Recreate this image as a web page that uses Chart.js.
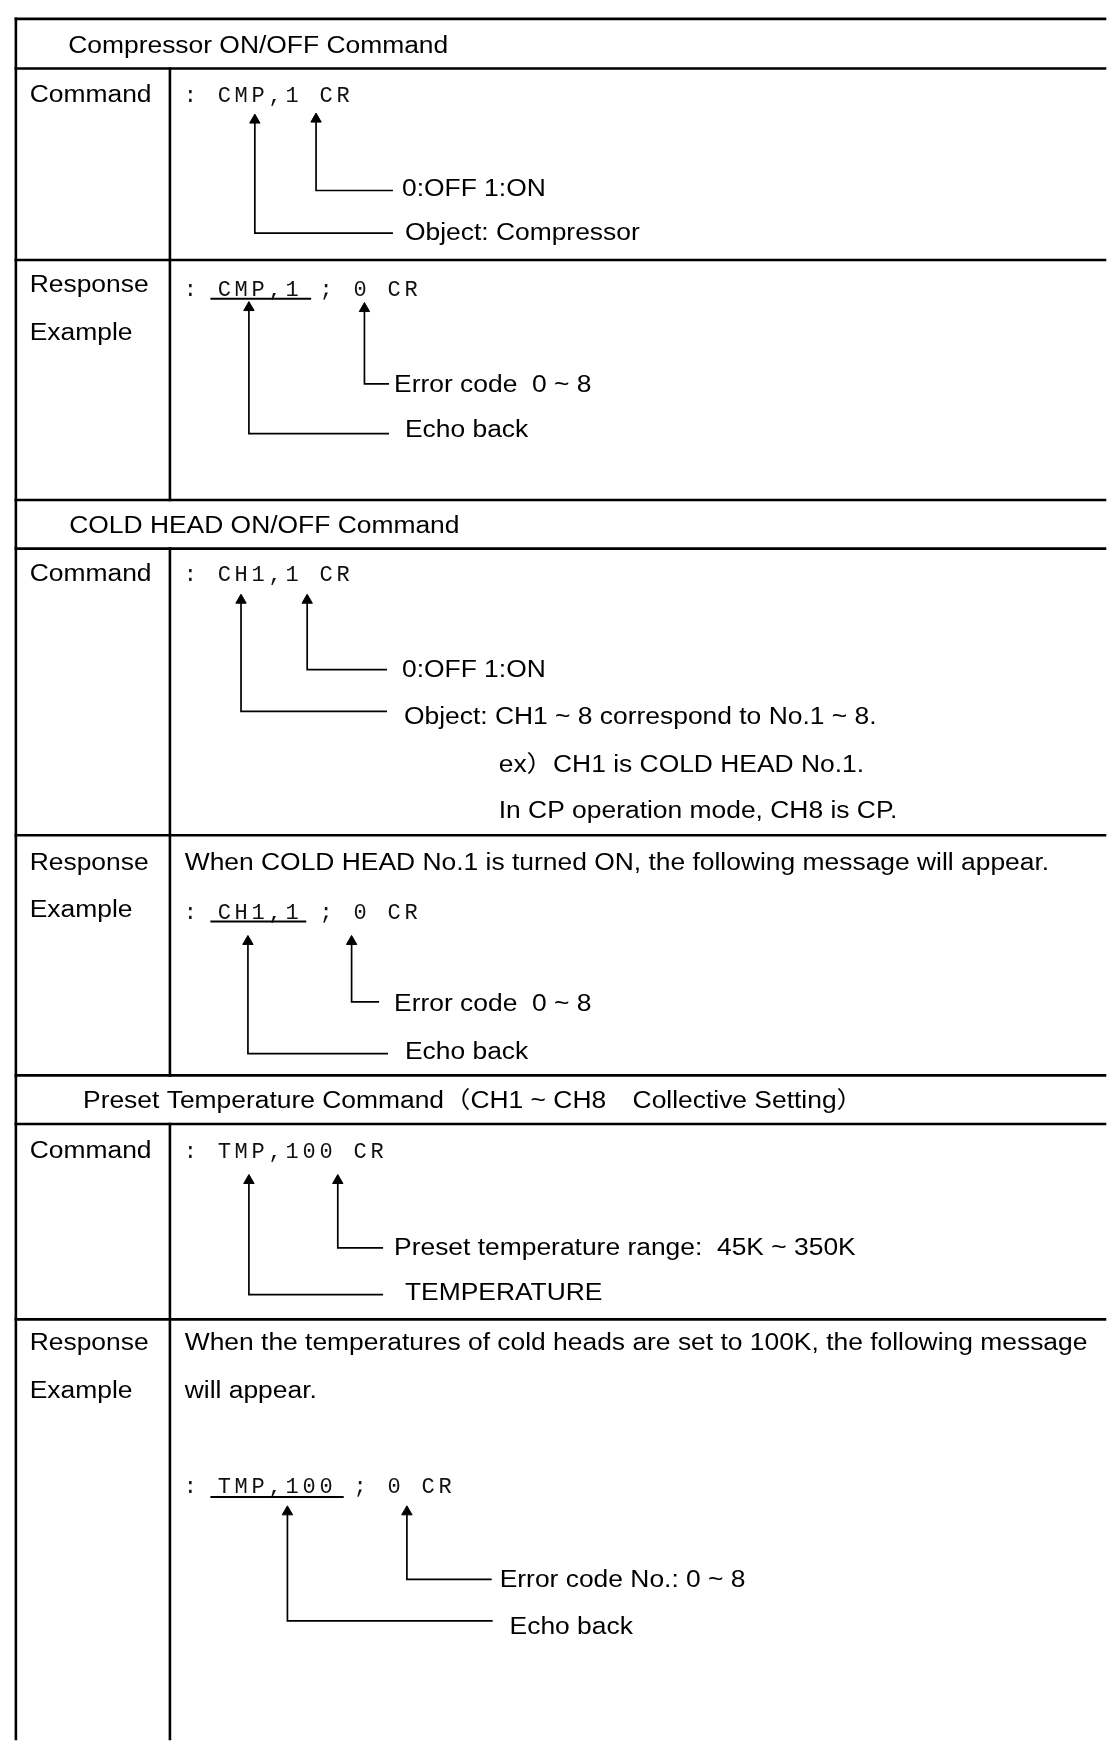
<!DOCTYPE html>
<html>
<head>
<meta charset="utf-8">
<script src="https://cdn.jsdelivr.net/npm/chart.js@4.4.1/dist/chart.umd.min.js"></script>
<style>
html, body { margin: 0; padding: 0; background: #fff; }
#wrap { width: 1112px; height: 1746px; }
</style>
</head>
<body>
<div id="wrap"><canvas id="chart"></canvas></div>
<script>
// sheet units: 1 unit = 1 px of the 1112 x 1746 page, y grows downward
const pageW = 1112
const pageH = 1746

// table rules
const ruleRows = [12, 62, 255, 497, 546, 835, 1077, 1126, 1323]
const leftEdge = 9
const dividerX = 165
const dividerSpans = [[62, 497], [546, 1077], [1126, 1746]]

// section titles
const headings = [
    {text: 'Compressor ON/OFF Command', x: 62, y: 46},
    {text: 'COLD HEAD ON/OFF Command', x: 63, y: 530},
    {text: 'Preset Temperature Command（CH1 ~ CH8　Collective Setting）', x: 77, y: 1110}
]

// left column
const rowLabels = [
    {text: 'Command', x: 23, y: 96},
    {text: 'Response', x: 23, y: 287},
    {text: 'Example', x: 23, y: 336},
    {text: 'Command', x: 23, y: 579},
    {text: 'Response', x: 23, y: 870},
    {text: 'Example', x: 23, y: 917},
    {text: 'Command', x: 23, y: 1160},
    {text: 'Response', x: 23, y: 1354},
    {text: 'Example', x: 23, y: 1402}
]

// right column notes
const notes = [
    {text: '0:OFF 1:ON', x: 400, y: 191},
    {text: 'Object: Compressor', x: 403, y: 235},
    {text: 'Error code  0 ~ 8', x: 392, y: 388},
    {text: 'Echo back', x: 403, y: 433},
    {text: '0:OFF 1:ON', x: 400, y: 675},
    {text: 'Object: CH1 ~ 8 correspond to No.1 ~ 8.', x: 402, y: 723},
    {text: 'ex）CH1 is COLD HEAD No.1.', x: 498, y: 771},
    {text: 'In CP operation mode, CH8 is CP.', x: 498, y: 818},
    {text: 'When COLD HEAD No.1 is turned ON, the following message will appear.', x: 180, y: 870},
    {text: 'Error code  0 ~ 8', x: 392, y: 1012},
    {text: 'Echo back', x: 403, y: 1061},
    {text: 'Preset temperature range:  45K ~ 350K', x: 392, y: 1258},
    {text: 'TEMPERATURE', x: 403, y: 1303},
    {text: 'When the temperatures of cold heads are set to 100K, the following message', x: 180, y: 1354},
    {text: 'will appear.', x: 180, y: 1402},
    {text: 'Error code No.: 0 ~ 8', x: 499, y: 1593},
    {text: 'Echo back', x: 509, y: 1640}
]

// command strings (drawn in fixed cells)
const codes = [
    {text: ': CMP,1 CR', x: 177, y: 96},
    {text: ': CMP,1 ; 0 CR', x: 177, y: 291},
    {text: ': CH1,1 CR', x: 177, y: 579},
    {text: ': CH1,1 ; 0 CR', x: 177, y: 919},
    {text: ': TMP,100 CR', x: 177, y: 1160},
    {text: ': TMP,100 ; 0 CR', x: 177, y: 1498}
]
const cellPitch = 17.2

// echo-back underlines: [from, to, y]
const underlines = [[207, 307, 294], [207, 302, 922], [207, 340, 1502]]

// leader arrows: column x, arrow tip, bend y, end of the leader
const arrows = [
    {x: 251, tip: 108, bend: 228, end: 390},
    {x: 313, tip: 107, bend: 185, end: 390},
    {x: 245, tip: 297, bend: 430, end: 386},
    {x: 362, tip: 298, bend: 380, end: 386},
    {x: 237, tip: 592, bend: 710, end: 384},
    {x: 304, tip: 592, bend: 668, end: 384},
    {x: 244, tip: 936, bend: 1055, end: 385},
    {x: 349, tip: 936, bend: 1003, end: 376},
    {x: 245, tip: 1177, bend: 1298, end: 380},
    {x: 335, tip: 1177, bend: 1251, end: 380},
    {x: 284, tip: 1511, bend: 1627, end: 491},
    {x: 405, tip: 1511, bend: 1585, end: 490}
]

function lineSet(points, width) {
    return {
        data: points.map(p => ({x: p[0], y: p[1]})),
        showLine: true,
        borderColor: '#000',
        borderWidth: width,
        borderCapStyle: 'square',
        pointRadius: 0,
        pointHoverRadius: 0,
        tension: 0,
        clip: false
    }
}

const datasets = []
ruleRows.forEach(y => datasets.push(lineSet([[leftEdge, y], [pageW, y]], 2.6)))
datasets.push(lineSet([[leftEdge, ruleRows[0]], [leftEdge, pageH]], 2.6))
dividerSpans.forEach(s => datasets.push(lineSet([[dividerX, s[0]], [dividerX, s[1]]], 2.6)))
underlines.forEach(u => datasets.push(lineSet([[u[0], u[2]], [u[1], u[2]]], 2)))
arrows.forEach(a => datasets.push(lineSet([[a.x, a.tip + 5], [a.x, a.bend], [a.end, a.bend]], 1.7)))
datasets.push({
    data: arrows.map(a => ({x: a.x, y: a.tip + 6})),
    showLine: false,
    pointStyle: 'triangle',
    pointRadius: 6,
    pointHoverRadius: 6,
    pointBackgroundColor: '#000',
    pointBorderColor: '#000',
    pointBorderWidth: 1,
    clip: false
})

const textPlugin = {
    id: 'sheetText',
    afterDatasetsDraw(chart) {
        const {ctx, scales: {x, y}} = chart
        ctx.save()
        ctx.fillStyle = '#000'
        ctx.textBaseline = 'alphabetic'
        ctx.textAlign = 'left'
        ctx.font = '23px "Liberation Sans", Arial, "Noto Sans CJK JP", sans-serif'
        headings.concat(rowLabels, notes).forEach(t => {
            ctx.save()
            ctx.translate(x.getPixelForValue(t.x), y.getPixelForValue(t.y))
            ctx.scale(1.148, 1)
            ctx.fillText(t.text, 0, 0)
            ctx.restore()
        })
        // command strings, one char per cell
        ctx.font = '22px "Liberation Mono", "DejaVu Sans Mono", monospace'
        ctx.textAlign = 'center'
        ctx.fillStyle = '#111'
        codes.forEach(c => {
            [...c.text].forEach((ch, i) => {
                ctx.fillText(ch, x.getPixelForValue(c.x + cellPitch * (i + 0.5)), y.getPixelForValue(c.y))
            })
        })
        ctx.restore()
    }
}

new Chart(document.getElementById('chart'), {
    type: 'scatter',
    data: {datasets},
    options: {
        responsive: true,
        maintainAspectRatio: false,
        animation: false,
        layout: {padding: 0},
        events: [],
        plugins: {legend: {display: false}, tooltip: {enabled: false}},
        scales: {
            x: {type: 'linear', min: 0, max: pageW, display: false},
            y: {type: 'linear', min: 0, max: pageH, reverse: true, display: false}
        }
    },
    plugins: [textPlugin]
})
</script>
</body>
</html>
